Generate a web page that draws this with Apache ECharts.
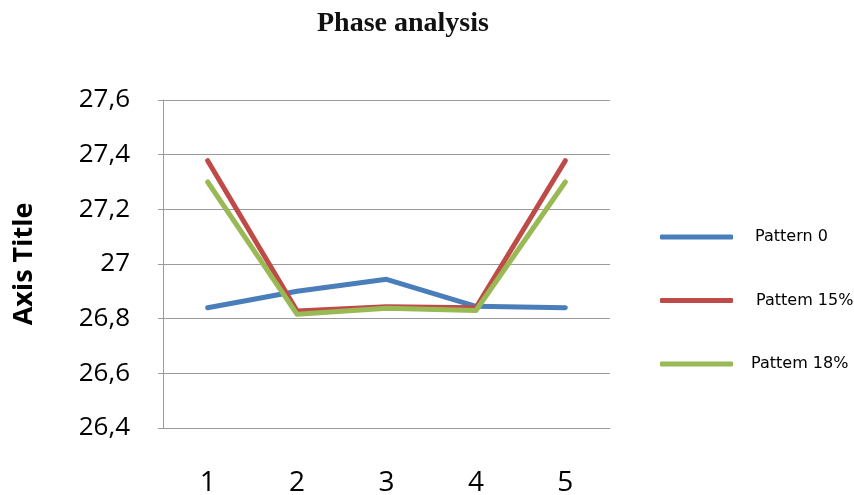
<!DOCTYPE html>
<html>
<head>
<meta charset="utf-8">
<script src="https://cdn.jsdelivr.net/npm/echarts@6/dist/echarts.min.js"></script>
<style>html,body{margin:0;padding:0;background:#fff;}#c{width:854px;height:495px;}</style>
</head>
<body>
<div id="c"></div>
<script>
var categories = ['1', '2', '3', '4', '5'];
var seriesNames = ['Pattern 0', 'Pattem 15%', 'Pattem 18%'];
var pattern0 = [26.84, 26.90, 26.944, 26.845, 26.84];
var pattern15 = [27.378, 26.828, 26.844, 26.84, 27.378];
var pattern18 = [27.30, 26.816, 26.838, 26.83, 27.30];
var yMin = 26.4, yMax = 27.6, yStep = 0.2;
var colors = ['#4A7EBB', '#BE4B48', '#98B954'];

var chart = echarts.init(document.getElementById('c'), null, {renderer: 'canvas'});
function mkSeries(name, data, color) {
  return {
    name: name, type: 'line', data: data, showSymbol: false, symbol: 'none',
    lineStyle: {width: 5, color: color, cap: 'round', join: 'round'},
    itemStyle: {color: color}, animation: false
  };
}
chart.setOption({
  animation: false,
  title: {
    text: 'Phase analysis', left: 312, top: 5,
    textStyle: {fontFamily: 'Liberation Serif', fontSize: 28, fontWeight: 'bold', color: '#111'}
  },
  legend: {
    orient: 'vertical', left: 660, top: 218, padding: 0, itemGap: 25.5,
    itemWidth: 73, itemHeight: 5, icon: 'roundRect',
    textStyle: {fontFamily: 'DejaVu Sans', fontSize: 16, color: '#000', lineHeight: 20},
    data: [
      {name: seriesNames[0], textStyle: {padding: [18, 0, 0, 17]}},
      {name: seriesNames[1], textStyle: {padding: [6, 0, 12, 18]}},
      {name: seriesNames[2], textStyle: {padding: [11, 0, 7, 13]}}
    ]
  },
  grid: {left: 163, right: 244, top: 100, bottom: 67, containLabel: false, outerBoundsMode: 'none'},
  xAxis: {
    type: 'category', data: categories, boundaryGap: true,
    axisLine: {lineStyle: {color: '#9a9a9a', width: 1}},
    axisTick: {show: false},
    axisLabel: {margin: 41, fontFamily: 'Open Sans', fontSize: 28, color: '#000'}
  },
  yAxis: {
    type: 'value', min: yMin, max: yMax, interval: yStep,
    name: 'Axis Title', nameLocation: 'middle', nameGap: 125, nameRotate: 90,
    nameTextStyle: {fontFamily: 'Open Sans', fontSize: 27, fontWeight: 'bold', color: '#000'},
    axisLine: {show: true, lineStyle: {color: '#9a9a9a', width: 1}},
    axisTick: {show: true, length: 5, lineStyle: {color: '#9a9a9a'}},
    splitLine: {lineStyle: {color: '#9a9a9a', width: 1}},
    axisLabel: {
      margin: 33, fontFamily: 'Open Sans', fontSize: 26, color: '#000',
      formatter: function (v) { return String(+v.toFixed(1)).replace('.', ','); }
    }
  },
  series: [
    mkSeries(seriesNames[0], pattern0, colors[0]),
    mkSeries(seriesNames[1], pattern15, colors[1]),
    mkSeries(seriesNames[2], pattern18, colors[2])
  ]
});
</script>
</body>
</html>
